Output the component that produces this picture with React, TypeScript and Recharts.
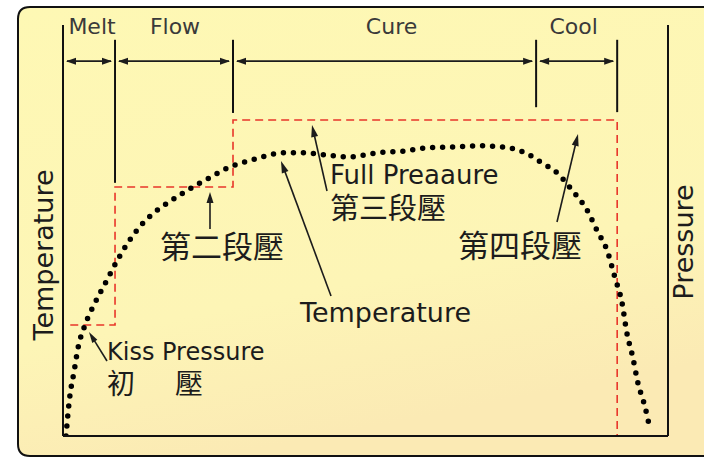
import React from 'react';
import { ComposedChart, Line, XAxis, YAxis, ReferenceLine } from 'recharts';

// ---- data (time 0-100, temperature / pressure 0-100, arbitrary units) ----
const tempTime = [0.5, 0.83, 1.16, 1.82, 2.48, 3.64, 5.29, 7.11, 8.93, 10.9, 13.1, 15.2, 17.5, 19.8, 22.3, 24.8, 27.6, 30.6, 33.4, 36.4, 39.7, 43.3, 47.4, 51.9, 56.2, 60.2, 64.5, 68.9, 72.7, 76.4, 79.2, 81.7, 84.1, 86.6, 88.4, 89.9, 91.2, 92.4, 93.2, 94.2, 95.0, 96.2, 97.0];
const tempValue = [0, 5.6, 10.0, 15.6, 21.4, 27.0, 32.4, 37.5, 42.6, 47.4, 51.6, 54.5, 56.9, 59.1, 61.3, 63.3, 65.5, 66.9, 68.1, 68.9, 68.9, 68.4, 67.9, 68.9, 69.3, 70.1, 70.3, 70.6, 70.3, 68.9, 66.4, 64.0, 59.9, 55.0, 49.6, 45.3, 38.7, 32.4, 25.1, 19.0, 13.1, 7.1, 1.9];

const pressureTime = [1.2, 8.6, 28.1, 91.6];
const pressureValue = [27.0, 60.6, 76.9, 0];

const phaseBounds = [0, 8.6, 28.1, 78.2, 91.6];
const phaseNames = ['Melt', 'Flow', 'Cure', 'Cool'];
const phaseLineTop = 96.4;
const phaseLineBottom = [61.6, 78.6, 80.0, 78.8];
const phaseArrowLevel = 91.2;

const temperatureData = tempTime.map((t, i) => ({ t, temp: tempValue[i] }));
const pressureData = pressureTime.map((t, i) => ({ t, p: pressureValue[i] }));

// ---- layout ----
const W = 704;
const H = 458;
const PLOT = { left: 63, right: 668, top: 25, bottom: 436 };
const AXW = 10;
const sx = (t: number) => PLOT.left + (t / 100) * (PLOT.right - PLOT.left);
const sy = (v: number) => PLOT.bottom - (v / 100) * (PLOT.bottom - PLOT.top);

const LATIN = '"DejaVu Sans", sans-serif';
const CJK = '"DejaVu Sans", "Noto Sans CJK TC", "Noto Sans CJK SC", sans-serif';
const INK = '#1c1c1c';

function Arrow({ x1, y1, x2, y2, len = 10, half = 3.5 }: { x1: number; y1: number; x2: number; y2: number; len?: number; half?: number }) {
  const dx = x2 - x1;
  const dy = y2 - y1;
  const d = Math.hypot(dx, dy) || 1;
  const ux = dx / d;
  const uy = dy / d;
  const bx = x2 - ux * len;
  const by = y2 - uy * len;
  const px = -uy * half;
  const py = ux * half;
  return (
    <g>
      <line x1={x1} y1={y1} x2={bx + ux * 2} y2={by + uy * 2} stroke={INK} strokeWidth={1.6} />
      <polygon points={`${x2},${y2} ${bx + px},${by + py} ${bx - px},${by - py}`} fill={INK} />
    </g>
  );
}

const phaseDx = [3, 1, 7, -3];

function Overlay() {
  const ay = sy(phaseArrowLevel);
  return (
    <svg width={W} height={H} style={{ position: 'absolute', left: 0, top: 0, pointerEvents: 'none' }}>
      {phaseNames.map((name, i) => {
        const a = sx(phaseBounds[i]);
        const b = sx(phaseBounds[i + 1]);
        return (
          <g key={name}>
            <line x1={a + 4} y1={ay} x2={b - 4} y2={ay} stroke={INK} strokeWidth={1.6} />
            <polygon points={`${a + 3},${ay} ${a + 13},${ay - 3.5} ${a + 13},${ay + 3.5}`} fill={INK} />
            <polygon points={`${b - 3},${ay} ${b - 13},${ay - 3.5} ${b - 13},${ay + 3.5}`} fill={INK} />
            <text x={(a + b) / 2 + phaseDx[i]} y={34} textAnchor="middle" fontFamily={LATIN} fontSize={22} fill="#3a3a3a">
              {name}
            </text>
          </g>
        );
      })}

      <text transform="translate(53,255) rotate(-90)" textAnchor="middle" fontFamily={LATIN} fontSize={27} fill={INK}>
        Temperature
      </text>
      <text transform="translate(693,242) rotate(-90)" textAnchor="middle" fontFamily={LATIN} fontSize={27} fill={INK}>
        Pressure
      </text>

      <Arrow x1={107} y1={361} x2={89} y2={332} len={11} half={3} />
      <text x={107} y={360} fontFamily={LATIN} fontSize={24} fill={INK}>Kiss Pressure</text>
      <text x={107} y={394} fontFamily={CJK} fontSize={28} fill={INK}>初</text>
      <text x={175} y={394} fontFamily={CJK} fontSize={28} fill={INK}>壓</text>

      <Arrow x1={210} y1={229} x2={210} y2={192} len={11} half={3.5} />
      <text x={160} y={258} fontFamily={CJK} fontSize={31} fill={INK}>第二段壓</text>

      <Arrow x1={331} y1={296} x2={281} y2={161} len={12} half={3.5} />
      <text x={300} y={322} fontFamily={LATIN} fontSize={27} fill={INK}>Temperature</text>

      <Arrow x1={327} y1={191} x2={312} y2={125} len={12} half={3.5} />
      <text x={330} y={184} fontFamily={LATIN} fontSize={26} fill={INK}>Full Preaaure</text>
      <text x={330} y={219} fontFamily={CJK} fontSize={29} fill={INK}>第三段壓</text>

      <Arrow x1={557} y1={222} x2={578} y2={134} len={12} half={3.5} />
      <text x={458} y={257} fontFamily={CJK} fontSize={31} fill={INK}>第四段壓</text>
    </svg>
  );
}

function Panel() {
  return (
    <svg width={W} height={H} style={{ position: 'absolute', left: 0, top: 0 }}>
      <defs>
        <linearGradient id="panelFill" x1="0" y1="0" x2="0.3" y2="1">
          <stop offset="0" stopColor="#fef8b4" />
          <stop offset="0.7" stopColor="#fdf5b6" />
          <stop offset="1" stopColor="#fbeab4" />
        </linearGradient>
      </defs>
      <rect x={0} y={0} width={W} height={H} fill="#ffffff" />
      <path d="M 704 7 H 30 Q 18 7 18 19 V 444 Q 18 456 30 456 H 704 Z" fill="url(#panelFill)" />
      <path d="M 704 7 H 30 Q 18 7 18 19 V 444 Q 18 456 30 456 H 704" fill="none" stroke="#111" strokeWidth={2} />
    </svg>
  );
}

export default function App() {
  return (
    <div style={{ position: 'absolute', left: 0, top: 0, width: W, height: H }}>
      <Panel />
      <div style={{ position: 'absolute', left: 0, top: 0 }}>
        <ComposedChart
          width={W}
          height={H}
          margin={{ top: PLOT.top, left: PLOT.left - AXW, right: W - PLOT.right - AXW, bottom: H - PLOT.bottom - AXW }}
        >
          <XAxis
            type="number"
            dataKey="t"
            domain={[0, 100]}
            height={AXW}
            tick={false}
            tickLine={false}
            axisLine={{ stroke: '#111', strokeWidth: 2 }}
            allowDataOverflow
          />
          <YAxis
            yAxisId="left"
            type="number"
            domain={[0, 100]}
            width={AXW}
            tick={false}
            tickLine={false}
            axisLine={{ stroke: '#111', strokeWidth: 2 }}
            allowDataOverflow
          />
          <YAxis
            yAxisId="right"
            orientation="right"
            type="number"
            domain={[0, 100]}
            width={AXW}
            tick={false}
            tickLine={false}
            axisLine={{ stroke: '#111', strokeWidth: 2 }}
            allowDataOverflow
          />
          {phaseBounds.slice(1).map((b, i) => (
            <ReferenceLine
              key={b}
              yAxisId="left"
              segment={[
                { x: b, y: phaseLineBottom[i] },
                { x: b, y: phaseLineTop },
              ]}
              stroke="#111"
              strokeWidth={2}
            />
          ))}
          <Line
            yAxisId="right"
            data={pressureData}
            dataKey="p"
            type="stepAfter"
            stroke="#e8362a"
            strokeWidth={1.6}
            strokeDasharray="8 5"
            dot={false}
            activeDot={false}
            isAnimationActive={false}
          />
          <Line
            yAxisId="left"
            data={temperatureData}
            dataKey="temp"
            type="monotone"
            stroke="#000"
            strokeWidth={5.5}
            strokeDasharray="0 10"
            strokeLinecap="round"
            dot={false}
            activeDot={false}
            isAnimationActive={false}
          />
        </ComposedChart>
      </div>
      <Overlay />
    </div>
  );
}
